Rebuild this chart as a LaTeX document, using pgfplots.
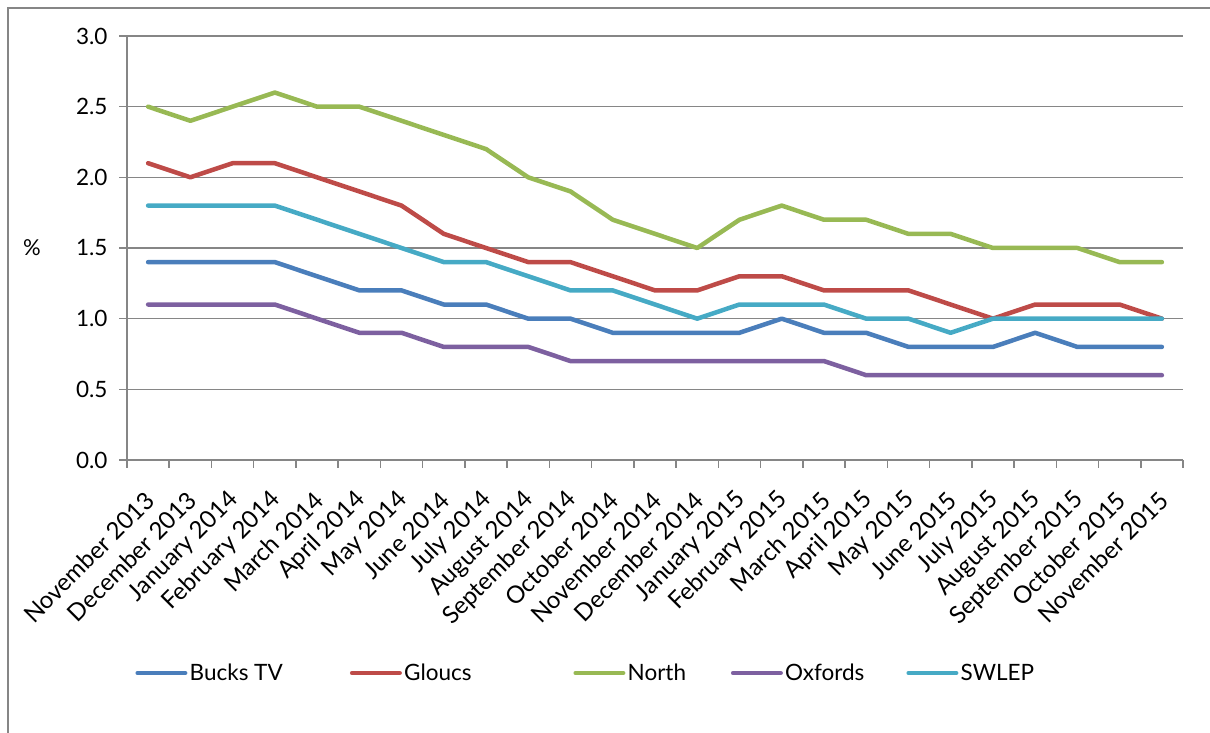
\documentclass[border=0pt]{standalone}
\usepackage{pgfplots}
\pgfplotsset{compat=1.18}
\usepackage{fontspec}
\setmainfont{Lato}

\definecolor{cBucks}{HTML}{4A7EBB}
\definecolor{cGloucs}{HTML}{BE4B48}
\definecolor{cNorth}{HTML}{98B954}
\definecolor{cOxfords}{HTML}{7D60A0}
\definecolor{cSWLEP}{HTML}{46AAC5}
\definecolor{axgray}{HTML}{868686}

% Monthly rates (%), November 2013 to November 2015
\pgfplotstableread{
idx bucks gloucs north oxfords swlep
0   1.4   2.1    2.5   1.1     1.8
1   1.4   2.0    2.4   1.1     1.8
2   1.4   2.1    2.5   1.1     1.8
3   1.4   2.1    2.6   1.1     1.8
4   1.3   2.0    2.5   1.0     1.7
5   1.2   1.9    2.5   0.9     1.6
6   1.2   1.8    2.4   0.9     1.5
7   1.1   1.6    2.3   0.8     1.4
8   1.1   1.5    2.2   0.8     1.4
9   1.0   1.4    2.0   0.8     1.3
10  1.0   1.4    1.9   0.7     1.2
11  0.9   1.3    1.7   0.7     1.2
12  0.9   1.2    1.6   0.7     1.1
13  0.9   1.2    1.5   0.7     1.0
14  0.9   1.3    1.7   0.7     1.1
15  1.0   1.3    1.8   0.7     1.1
16  0.9   1.2    1.7   0.7     1.1
17  0.9   1.2    1.7   0.6     1.0
18  0.8   1.2    1.6   0.6     1.0
19  0.8   1.1    1.6   0.6     0.9
20  0.8   1.0    1.5   0.6     1.0
21  0.9   1.1    1.5   0.6     1.0
22  0.8   1.1    1.5   0.6     1.0
23  0.8   1.1    1.4   0.6     1.0
24  0.8   1.0    1.4   0.6     1.0
}\ratetable

\newcommand\legentry[2]{\makebox[#1][l]{\hspace{2.25pt}#2}}

\begin{document}
\begin{tikzpicture}
\useasboundingbox (0pt,0pt) rectangle (1210pt,733pt);
% chart area frame
\draw[axgray, line width=1.5pt] (8pt,-5pt) -- (8pt,725pt) -- (1220pt,725pt);
\node[font=\fontsize{22}{26}\selectfont, anchor=center] at (32pt,485pt) {\%};
\begin{axis}[
  at={(127pt,273pt)}, anchor=south west,
  width=1056pt, height=424pt, scale only axis,
  xmin=-0.5, xmax=24.5, ymin=0, ymax=3,
  axis x line*=bottom, axis y line*=left,
  axis line style={axgray, line width=1.5pt},
  ytick={0,0.5,...,3},
  yticklabel style={/pgf/number format/fixed, /pgf/number format/fixed zerofill,
    /pgf/number format/precision=1, xshift=-8pt, font=\fontsize{22.5}{26}\selectfont},
  /pgf/number format/assume math mode=true,
  ymajorgrids, grid style={axgray, line width=1.5pt},
  xtick={0,...,24},
  xticklabels={November 2013, December 2013, January 2014, February 2014,
    March 2014, April 2014, May 2014, June 2014, July 2014, August 2014,
    September 2014, October 2014, November 2014, December 2014,
    January 2015, February 2015, March 2015, April 2015, May 2015,
    June 2015, July 2015, August 2015, September 2015, October 2015,
    November 2015},
  major x tick style={draw=none},
  minor xtick={-0.5,0.5,...,24.5},
  tick align=outside, major tick length=8pt, minor tick length=8pt,
  tick style={axgray, line width=1.5pt},
  xticklabel style={font=\fontsize{24}{28}\selectfont, xshift=2pt, yshift=-28pt,
    rotate=45, anchor=east, inner sep=0pt},
  legend columns=5,
  legend style={at={(0.0078,-0.5024)}, anchor=west, draw=none, inner sep=0pt,
    font=\fontsize{22.5}{26}\selectfont,
    column sep=0pt,
    nodes={inner xsep=0pt}},
  legend cell align=left,
  legend image code/.code={\draw[#1, line width=4.5pt, line cap=round] (0pt,0pt) -- (47.5pt,0pt);},
  every axis plot/.append style={line width=4.5pt, line join=round, line cap=round},
]
\addplot[cBucks]   table[x=idx, y=bucks]   {\ratetable};
\addplot[cGloucs]  table[x=idx, y=gloucs]  {\ratetable};
\addplot[cNorth]   table[x=idx, y=north]   {\ratetable};
\addplot[cOxfords] table[x=idx, y=oxfords] {\ratetable};
\addplot[cSWLEP]   table[x=idx, y=swlep]   {\ratetable};
\legend{\legentry{162.5pt}{Bucks TV}, \legentry{171.5pt}{Gloucs},
  \legentry{105.5pt}{North}, \legentry{123.5pt}{Oxfords}, \legentry{80pt}{SWLEP}}
\end{axis}
\end{tikzpicture}
\end{document}
